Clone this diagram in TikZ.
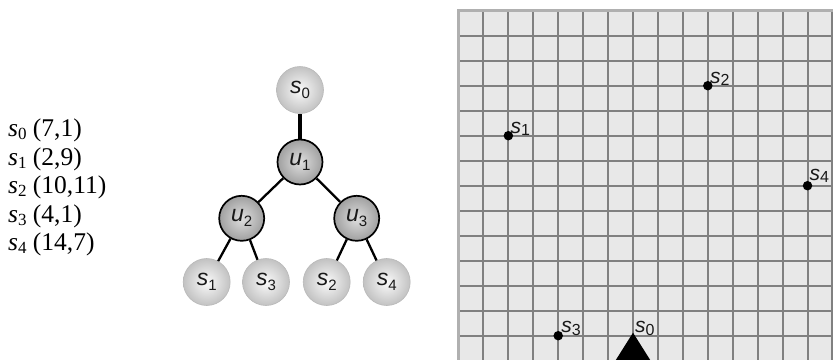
\documentclass[tikz,border=0pt]{standalone}
\usepackage{fontspec}
\setmainfont{Liberation Serif}
\newfontfamily\arialf{Liberation Sans}
\definecolor{gridbg}{HTML}{E8E8E8}
\definecolor{gridln}{HTML}{808080}
\definecolor{gridbd}{HTML}{B0B0B0}
\newcommand\mycl[1]{\textit{s}\raisebox{-3pt}{\fontsize{17}{17}\selectfont #1}}
\newcommand\mytl[2]{\textit{#1}\raisebox{-5pt}{\fontsize{15}{15}\selectfont #2}}
\newcommand\mygl[2]{\textit{#1}\raisebox{-2.5pt}{\fontsize{16}{16}\selectfont #2}}
\begin{document}
\begin{tikzpicture}[x=1pt,y=-1pt,
  snode/.style={circle, minimum size=47pt, inner sep=0pt, inner color=gray!4, outer color=gray!48,
    draw=gray!55, line width=0.6pt, text=black!90, font=\arialf\fontsize{23}{25}\selectfont},
  unode/.style={circle, minimum size=45pt, inner sep=0pt, inner color=gray!25, outer color=gray!75,
    draw=black, line width=1.7pt, text=black!90, font=\arialf\fontsize{23}{25}\selectfont},
  tedge/.style={line width=2.3pt, black},
  rootedge/.style={line width=3.5pt, black},
  coordtext/.style={anchor=base west, inner sep=0pt, font=\fontsize{25.5}{28}\selectfont},
  gridline/.style={line width=2pt, gridln},
  gridborder/.style={line width=3pt, gridbd},
  dot/.style={circle, fill=black, inner sep=0pt, minimum size=9.5pt},
  glabel/.style={anchor=south west, inner sep=0pt, xshift=2pt, text=black!90, font=\arialf\fontsize{21}{23}\selectfont}
]
\useasboundingbox (0,0) rectangle (833,359);

% coordinate list
\node[coordtext] (t0) at (8,136.5) {\mycl{0} (7,1)};
\node[coordtext] (t1) at (8,165) {\mycl{1} (2,9)};
\node[coordtext] (t2) at (8,193.5) {\mycl{2} (10,11)};
\node[coordtext] (t3) at (8,222) {\mycl{3} (4,1)};
\node[coordtext] (t4) at (8,250.5) {\mycl{4} (14,7)};

% tree
\node[snode] (s0) at (300,90) {\mytl{s}{0}};
\node[unode] (u1) at (300,162) {\mytl{u}{1}};
\node[unode] (u2) at (241.7,218.3) {\mytl{u}{2}};
\node[unode] (u3) at (356.7,218.3) {\mytl{u}{3}};
\node[snode] (s1) at (206.7,282) {\mytl{s}{1}};
\node[snode] (s3) at (266,282) {\mytl{s}{3}};
\node[snode] (s2) at (326.7,282) {\mytl{s}{2}};
\node[snode] (s4) at (386.7,282) {\mytl{s}{4}};
\draw[rootedge] (s0) -- (u1);
\draw[tedge] (u1) -- (u2);
\draw[tedge] (u1) -- (u3);
\draw[tedge] (u2) -- (s1);
\draw[tedge] (u2) -- (s3);
\draw[tedge] (u3) -- (s2);
\draw[tedge] (u3) -- (s4);

% grid
\begin{scope}
\clip (0,0) rectangle (833,359);
\begin{scope}[shift={(458.5,360.7)}, x=24.93pt, y=25pt]
  \fill[gridbg] (0,-1) rectangle (16,14);
  \foreach \i in {1,...,16} \draw[gridline] (\i,-1) -- (\i,14);
  \foreach \j in {-1,...,13} \draw[gridline] (0,\j) -- (16,\j);
  \draw[gridborder] (0,-1) -- (0,14) -- (16,14);
  \node[dot] (p1) at (2,9) {};
  \node[dot] (p2) at (10,11) {};
  \node[dot] (p3) at (4,1) {};
  \node[dot] (p4) at (14,7) {};
  \coordinate (a0) at (7,1.12);
  \fill[black] (a0) -- ++(-0.96,-1.52) -- ++(1.92,0) -- cycle;
  \node[glabel] (l1) at (p1.center) {\mygl{s}{1}};
  \node[glabel] (l2) at (p2.center) {\mygl{s}{2}};
  \node[glabel, xshift=1pt] (l3) at (p3.center) {\mygl{s}{3}};
  \node[glabel, yshift=3pt] (l4) at (p4.center) {\mygl{s}{4}};
  \node[glabel, yshift=-3pt] (l0) at (a0) {\mygl{s}{0}};
\end{scope}
\end{scope}
\end{tikzpicture}
\end{document}
